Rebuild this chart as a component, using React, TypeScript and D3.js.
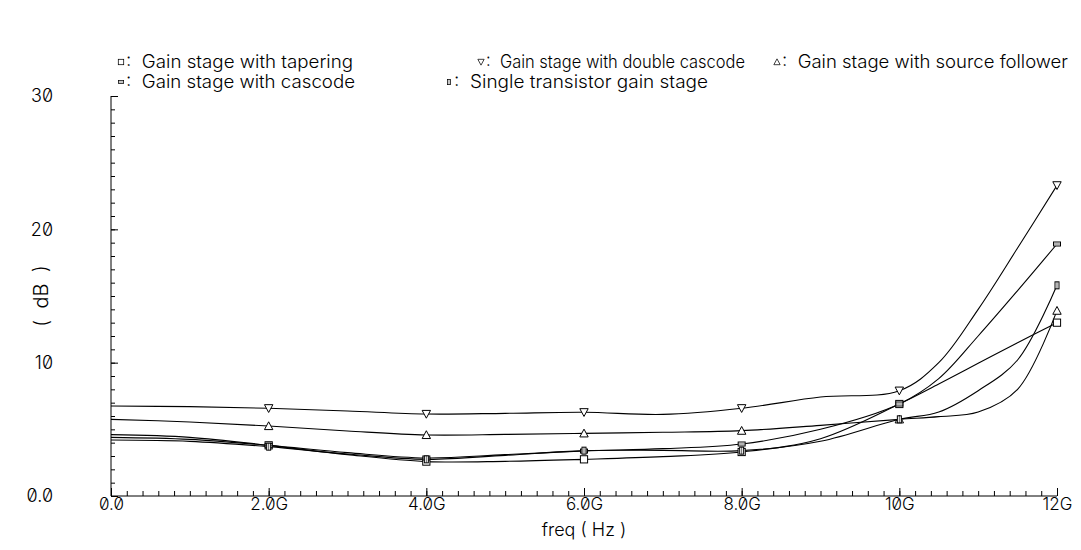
import * as d3 from "d3";
import React, { useEffect, useRef } from "react";

// frequency samples (GHz)
const freqG = [0, 1, 2, 3, 4, 5, 6, 7, 8, 9, 10, 10.5, 11, 11.5, 12];
const markerFreqs = [2, 4, 6, 8, 10, 12];

const tapering = [4.6, 4.4, 3.8, 3.1, 2.58, 2.6, 2.75, 2.95, 3.3, 4.3, 6.9, 8.4, 9.95, 11.5, 13.0];
const doubleCascode = [6.75, 6.7, 6.58, 6.38, 6.15, 6.2, 6.28, 6.12, 6.58, 7.42, 7.9, 10.0, 14.0, 18.6, 23.3];
const sourceFollower = [5.75, 5.55, 5.25, 4.88, 4.58, 4.62, 4.7, 4.78, 4.9, 5.3, 5.75, 5.95, 6.3, 8.0, 13.9];
const cascode = [4.4, 4.25, 3.8, 3.25, 2.85, 3.1, 3.37, 3.55, 3.9, 5.0, 6.9, 8.8, 12.0, 15.4, 18.9];
const singleTransistor = [4.2, 4.1, 3.7, 3.15, 2.75, 3.05, 3.4, 3.42, 3.4, 4.1, 5.75, 6.3, 7.9, 10.2, 15.8];

const seriesNames = [
  "Gain stage with tapering",
  "Gain stage with double cascode",
  "Gain stage with source follower",
  "Gain stage with cascode",
  "Single transistor gain stage",
];
const seriesMarkers = ["square", "tridown", "triup", "hbar", "vbar"];
const seriesValues = [tapering, doubleCascode, sourceFollower, cascode, singleTransistor];

const xTickValues = [0, 2, 4, 6, 8, 10, 12];
const xTickLabels = ["0.0", "2.0G", "4.0G", "6.0G", "8.0G", "10G", "12G"];
const yTickValues = [0, 10, 20, 30];
const yTickLabels = ["0.0", "10", "20", "30"];

const W = 1081;
const H = 550;
const FONT = "Inter, 'DejaVu Sans', sans-serif";

// legend layout: marker x, row y, text right end
const legendLayout = [
  [121, 62, 353], [481, 62, 745], [777, 62, 1068],
  [121, 82, 355], [449, 82, 708],
];

function drawMarker(g: any, kind: string, cx: number, cy: number) {
  const s = 3.6;
  const apply = (sel: any) => sel.attr("fill", "white").attr("stroke", "#000").attr("stroke-width", 1);
  if (kind === "square") {
    apply(g.append("rect").attr("x", cx - s).attr("y", cy - s).attr("width", 2 * s).attr("height", 2 * s));
  } else if (kind === "tridown") {
    apply(g.append("path").attr("d", `M${cx - s - 0.6},${cy - s}L${cx + s + 0.6},${cy - s}L${cx},${cy + s + 0.6}Z`));
  } else if (kind === "triup") {
    apply(g.append("path").attr("d", `M${cx - s - 0.6},${cy + s}L${cx + s + 0.6},${cy + s}L${cx},${cy - s - 0.6}Z`));
  } else if (kind === "hbar") {
    apply(g.append("rect").attr("x", cx - 3.5).attr("y", cy - 2).attr("width", 7).attr("height", 4));
    g.append("line").attr("x1", cx - 3.5).attr("x2", cx + 3.5).attr("y1", cy).attr("y2", cy)
      .attr("stroke", "#000").attr("stroke-width", 0.6);
  } else {
    apply(g.append("rect").attr("x", cx - 2).attr("y", cy - 3.5).attr("width", 4).attr("height", 7));
    g.append("line").attr("x1", cx).attr("x2", cx).attr("y1", cy - 3.5).attr("y2", cy + 3.5)
      .attr("stroke", "#000").attr("stroke-width", 0.6);
  }
}

export default function App() {
  const ref = useRef<SVGSVGElement>(null);

  useEffect(() => {
    const svg = d3.select(ref.current);
    svg.selectAll("*").remove();

    const margin = { left: 111, right: 24, top: 96, bottom: 54 };
    const x = d3.scaleLinear().domain([0, 12]).range([margin.left, W - margin.right]);
    const y = d3.scaleLinear().domain([0, 30]).range([H - margin.bottom, margin.top]);

    const txt = (sel: any, size = 18) =>
      sel.attr("font-family", FONT).attr("font-size", size).attr("font-weight", 300)
        .style("font-variant-numeric", "slashed-zero").attr("fill", "#000");

    // y axis: minor ticks every 1 dB
    svg.append("g")
      .attr("transform", `translate(${x(0)},0)`)
      .call(d3.axisLeft(y).tickValues(d3.range(1, 30)).tickSize(-4).tickFormat(() => ""))
      .call((g) => g.select(".domain").remove());
    const ya = svg.append("g")
      .attr("transform", `translate(${x(0)},0)`)
      .call(d3.axisLeft(y).tickValues(yTickValues).tickSize(-7).tickSizeOuter(0).tickPadding(58)
        .tickFormat((d, i) => yTickLabels[i]));
    ya.selectAll("text").call(txt, 18);
    ya.select(".domain").attr("d", `M0,${y(0)}V${y(30)}`);

    // x axis: minor ticks every 0.2G
    svg.append("g")
      .attr("transform", `translate(0,${y(0)})`)
      .call(d3.axisBottom(x).tickValues(d3.range(1, 60).map((i) => i * 0.2)).tickSize(-5).tickFormat(() => ""))
      .call((g) => g.select(".domain").remove());
    const xa = svg.append("g")
      .attr("transform", `translate(0,${y(0)})`)
      .call(d3.axisBottom(x).tickValues(xTickValues).tickSize(-8).tickSizeOuter(0).tickPadding(2)
        .tickFormat((d, i) => xTickLabels[i]));
    xa.selectAll("text").call(txt, 17);
    xa.select(".domain").attr("d", `M${x(0)},0H${x(12)}`);
    svg.selectAll(".tick line").attr("stroke", "#000");
    svg.selectAll(".domain").attr("stroke", "#000");

    // axis titles
    svg.append("text").call(txt, 18)
      .attr("x", (x(0) + x(12)) / 2).attr("y", 536).attr("text-anchor", "middle")
      .text("freq ( Hz )");
    svg.append("text").call(txt, 20)
      .attr("transform", `translate(48,${(y(0) + y(30)) / 2}) rotate(-90)`)
      .attr("text-anchor", "middle").style("white-space", "pre").text("(  dB  )");

    // curves
    const line = d3.line<number>()
      .x((_, i) => x(freqG[i]))
      .y((d) => y(d))
      .curve(d3.curveCatmullRom.alpha(0.5));
    const plot = svg.append("g");
    seriesValues.forEach((vals) => {
      plot.append("path").attr("d", line(vals)).attr("fill", "none")
        .attr("stroke", "#000").attr("stroke-width", 1.1);
    });
    seriesValues.forEach((vals, si) => {
      markerFreqs.forEach((f) => {
        const i = freqG.indexOf(f);
        drawMarker(plot, seriesMarkers[si], x(f), y(vals[i]));
      });
    });

    // legend
    const leg = svg.append("g");
    seriesNames.forEach((name, i) => {
      const [lx, ly, rx] = legendLayout[i];
      const g = leg.append("g");
      const kind = seriesMarkers[i];
      g.append("g").attr("transform", `translate(${lx},${ly}) scale(0.75) translate(${-lx},${-ly})`)
        .call((gg: any) => drawMarker(gg, kind, lx, ly));
      g.append("text").call(txt, 18).attr("x", lx + 5).attr("y", ly + 6).style("white-space", "pre")
        .attr("textLength", rx - lx - 5).attr("lengthAdjust", "spacingAndGlyphs")
        .text(`:  ${name}`);
    });
  }, []);

  return (
    <svg ref={ref} width={W} height={H} viewBox={`0 0 ${W} ${H}`}
      style={{ position: "absolute", left: 0, top: 0, background: "#fff" }} />
  );
}
